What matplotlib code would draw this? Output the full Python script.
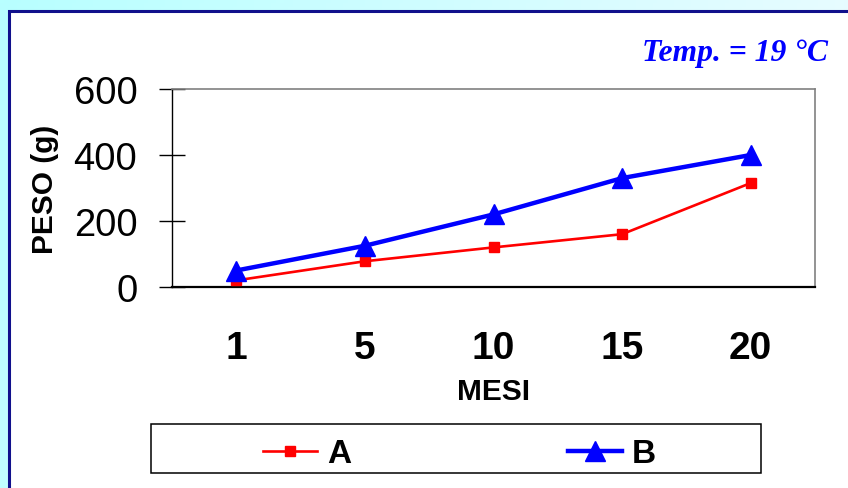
import numpy as np
import matplotlib
matplotlib.use("Agg")
import matplotlib.pyplot as plt
from matplotlib.patches import Rectangle

# Data
months = ["1", "5", "10", "15", "20"]
weight_a = [20, 78, 120, 160, 315]
weight_b = [50, 125, 220, 330, 400]
y_ticks = [0, 200, 400, 600]

W, H = 848, 489
fig = plt.figure(figsize=(W / 100, H / 100), dpi=100)
plt.rcParams["font.family"] = ["Liberation Sans", "DejaVu Sans"]


def fx(px):
    return px / W


def fy(py):
    return 1 - py / H


# Light cyan gradient backdrop
bg = fig.add_axes([0, 0, 1, 1], zorder=-10)
gx = np.linspace(0, 1, 200)[None, :]
gy = np.linspace(0, 1, 120)[:, None]
t = np.clip(0.75 * gx + 0.15 * gy, 0, 1)
c0 = np.array([184, 255, 255]) / 255
c1 = np.array([246, 251, 255]) / 255
img = c0[None, None, :] * (1 - t[..., None]) + c1[None, None, :] * t[..., None]
bg.imshow(img, aspect="auto", extent=[0, 1, 0, 1], origin="upper")
bg.set_axis_off()

# White panel with navy border
panel = Rectangle((fx(9), fy(500)), fx(870) - fx(9), fy(12) - fy(500),
                  transform=fig.transFigure, facecolor="white",
                  edgecolor="#10108c", lw=2.2, zorder=-5)
fig.add_artist(panel)

ax = fig.add_axes([fx(172), fy(288), fx(815) - fx(172), fy(90) - fy(288)])
x = np.arange(len(months))

ax.plot(x, weight_a, color="#ff0000", lw=1.9, marker="s", ms=6.5,
        label="A", zorder=3)
ax.plot(x, weight_b, color="#0000ff", lw=3.2, marker="^", ms=14.5,
        label="B", zorder=4)

ax.set_xlim(-0.5, len(months) - 0.5)
ax.set_ylim(0, 600)
ax.set_yticks(y_ticks)
ax.set_xticks(x)
ax.set_xticklabels(months, fontsize=28, fontweight="bold")
ax.tick_params(axis="x", length=0, pad=31)
ax.tick_params(axis="y", direction="inout", length=19, width=1,
               labelsize=27.5, pad=15.5)

for s in ("top", "right"):
    ax.spines[s].set_color("#808080")
    ax.spines[s].set_linewidth(1.2)
ax.spines["left"].set_color("black")
ax.spines["left"].set_linewidth(1)
ax.spines["bottom"].set_color("black")
ax.spines["bottom"].set_linewidth(1.6)

ax.set_xlabel("MESI", fontsize=21.5, fontweight="bold")
ax.xaxis.set_label_coords(0.5, (288 - 378) / 198)
ax.set_ylabel("PESO (g)", fontsize=21.5, fontweight="bold")
ax.yaxis.set_label_coords((59 - 172) / 643, 0.5)

# Legend in a framed strip below the axes
leg = ax.legend(loc="center left", bbox_to_anchor=(fx(263), fy(455)),
                bbox_transform=fig.transFigure, ncol=2, frameon=False,
                prop={"weight": "bold", "size": 24}, handlelength=1.62,
                handletextpad=0.3, columnspacing=6.5, borderpad=0,
                borderaxespad=0)
frame = Rectangle((fx(151), fy(474)), fx(761) - fx(151), fy(425) - fy(474),
                  transform=fig.transFigure, facecolor="none",
                  edgecolor="black", lw=1.1, zorder=5)
fig.add_artist(frame)

fig.text(fx(828), fy(61), "Temp. = 19 °C", ha="right", va="baseline",
         fontfamily="Liberation Serif", fontweight="bold",
         fontstyle="italic", fontsize=22.8, color="#0000ff")

fig.savefig("out.png", dpi=100)
